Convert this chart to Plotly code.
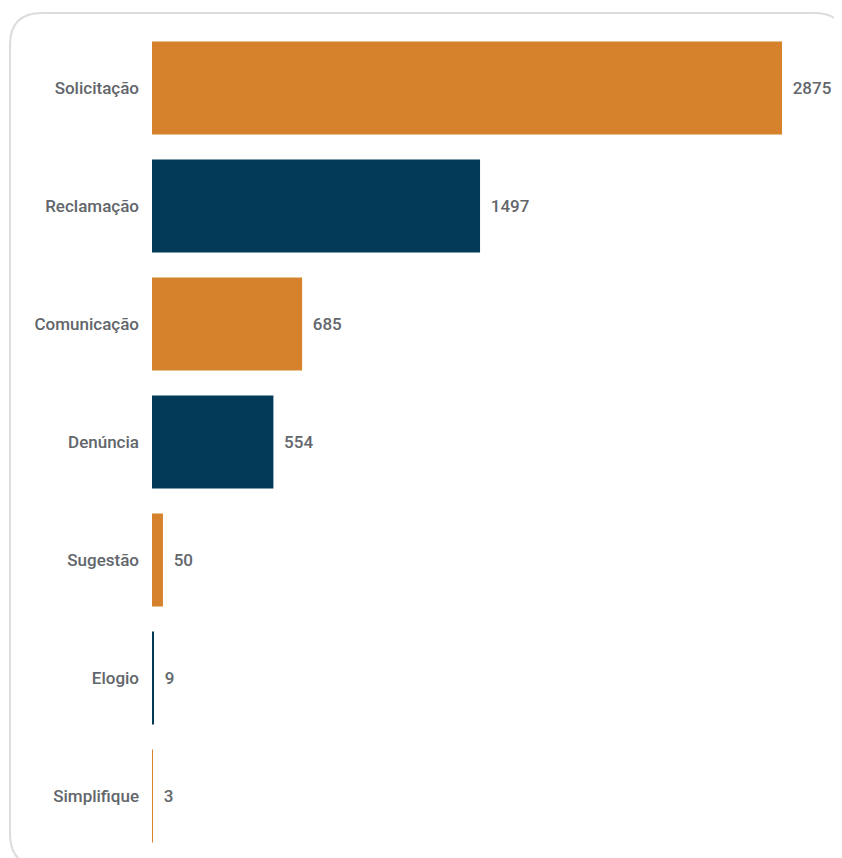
import plotly.graph_objects as go

categorias = ["Solicitação", "Reclamação", "Comunicação", "Denúncia", "Sugestão", "Elogio", "Simplifique"]
valores = [2875, 1497, 685, 554, 50, 9, 3]
cores = ["#D6822C", "#023A58", "#D6822C", "#023A58", "#D6822C", "#023A58", "#D6822C"]

W, H = 842, 858
OFF = 8  # margem do body da página
ml, mr, mt, mb = 152 - OFF, 0, 29 - OFF, 3 + OFF

fonte = dict(family="Roboto", size=17, color="#62666b", weight=500)

fig = go.Figure()
fig.add_trace(go.Bar(
    y=categorias, x=valores, orientation="h",
    marker=dict(color=cores, line=dict(width=0)),
    text=valores, texttemplate=" \u2009%{x}", textposition="outside",
    textfont=fonte, cliponaxis=False, width=0.79,
))

# moldura arredondada (pixels da tela -> paper)
pw, ph = W - ml - mr, H - mt - mb
def px(x): return (x - OFF - ml) / pw
def py(y): return (H - mb - (y - OFF)) / ph
x0, y0, x1, y1, r = 10, 13, 846, 866, 32
path = (f"M {px(x0 + r)},{py(y0)} L {px(x1 - r)},{py(y0)} Q {px(x1)},{py(y0)} {px(x1)},{py(y0 + r)} "
        f"L {px(x1)},{py(y1 - r)} Q {px(x1)},{py(y1)} {px(x1 - r)},{py(y1)} "
        f"L {px(x0 + r)},{py(y1)} Q {px(x0)},{py(y1)} {px(x0)},{py(y1 - r)} "
        f"L {px(x0)},{py(y0 + r)} Q {px(x0)},{py(y0)} {px(x0 + r)},{py(y0)} Z")
fig.add_shape(type="path", path=path, xref="paper", yref="paper",
              line=dict(color="#dcdcdc", width=2), layer="below")

fig.update_layout(
    width=W, height=H,
    margin=dict(l=ml, r=mr, t=mt, b=mb),
    plot_bgcolor="white", paper_bgcolor="white",
    showlegend=False,
    font=dict(family="Roboto", color="#62666b"),
    xaxis=dict(visible=False, range=[0, (W - ml - mr) / (630 / 2875)]),
    yaxis=dict(autorange="reversed", showgrid=False, showline=False, zeroline=False,
               ticks="", ticklabelstandoff=12, tickfont=fonte),
)

fig.write_html("out.html")
